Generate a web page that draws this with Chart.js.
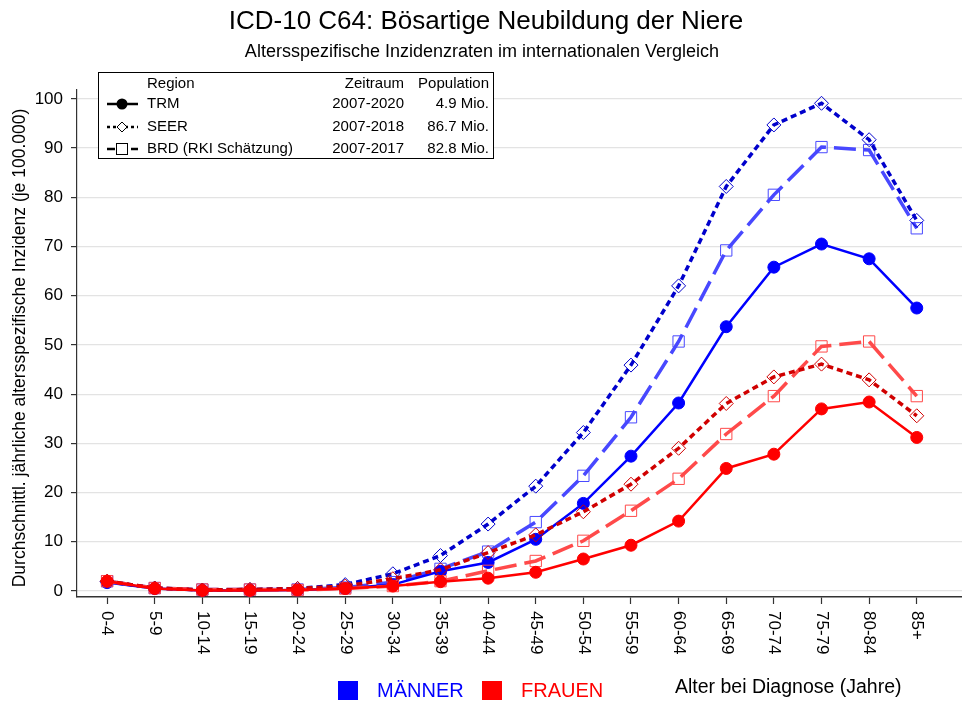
<!DOCTYPE html>
<html>
<head>
<meta charset="utf-8">
<script src="https://cdn.jsdelivr.net/npm/chart.js@4/dist/chart.umd.min.js"></script>
<style>
  html,body{margin:0;padding:0;background:#fff;}
  #wrap{width:962px;height:707px;}
</style>
</head>
<body>
<div id="wrap"><canvas id="c" width="962" height="707"></canvas></div>
<script>
const categories = ["0-4","5-9","10-14","15-19","20-24","25-29","30-34","35-39","40-44","45-49","50-54","55-59","60-64","65-69","70-74","75-79","80-84","85+"];
const yTicks = [0,10,20,30,40,50,60,70,80,90,100];

const menTRM  = [1.7,0.5,0.1,0.1,0.2,0.5,1.3,4.0,5.8,10.5,17.8,27.4,38.2,53.7,65.8,70.5,67.5,57.5];
const menSEER = [1.9,0.6,0.2,0.3,0.5,1.3,3.5,7.2,13.6,21.3,32.2,45.9,62.0,82.2,94.7,99.1,91.7,75.3];
const menBRD  = [2.0,0.6,0.3,0.3,0.3,0.7,1.8,4.5,8.0,14.0,23.4,35.3,50.7,69.2,80.5,90.2,89.6,73.7];
const womenTRM  = [2.0,0.5,0.1,0.1,0.2,0.5,1.0,1.9,2.6,3.8,6.5,9.3,14.2,24.9,27.8,37.0,38.4,31.2];
const womenSEER = [2.0,0.6,0.2,0.3,0.5,1.0,2.5,4.3,7.8,11.4,16.1,21.7,29.0,38.1,43.5,46.1,42.9,35.6];
const womenBRD  = [2.0,0.6,0.3,0.3,0.2,0.5,1.0,2.0,4.1,6.1,10.2,16.3,22.8,31.9,39.6,49.7,50.7,39.6];

const FONT = "'Liberation Sans', Arial, sans-serif";
const toPts = arr => arr.map((v,i)=>({x:i,y:v}));

function ds(label, data, color, style, order){
  const base = {label, data: toPts(data), borderColor: color, pointBorderColor: color, order, tension:0};
  if(style==='solid'){
    return Object.assign(base,{borderWidth:2.5, pointStyle:'circle', pointRadius:6, pointBackgroundColor:color, pointBorderWidth:1});
  } else if(style==='dot'){
    return Object.assign(base,{borderWidth:3.5, borderDash:[6,4], pointStyle:'rectRot', pointRadius:7, pointBackgroundColor:'rgba(0,0,0,0)', pointBorderWidth:1});
  } else {
    return Object.assign(base,{borderWidth:3.5, borderDash:[22,8], pointStyle:'rect', pointRadius:8, pointBackgroundColor:'rgba(0,0,0,0)', pointBorderWidth:1});
  }
}

const datasets = [
  ds('Frauen TRM', womenTRM, '#ff0000', 'solid', 1),
  ds('Frauen SEER', womenSEER, '#d00000', 'dot', 2),
  ds('Frauen BRD', womenBRD, '#ff4a4a', 'dash', 3),
  ds('Männer TRM', menTRM, '#0000ff', 'solid', 4),
  ds('Männer SEER', menSEER, '#0000cc', 'dot', 5),
  ds('Männer BRD', menBRD, '#4848ff', 'dash', 6)
];

function marker(ctx, type, x, y){
  ctx.save();
  ctx.setLineDash([]);
  ctx.strokeStyle='#000'; ctx.fillStyle='#000'; ctx.lineWidth=1;
  if(type==='circle'){ ctx.beginPath(); ctx.arc(x,y,5.5,0,Math.PI*2); ctx.fill(); }
  else if(type==='diamond'){ ctx.fillStyle='#fff'; ctx.beginPath(); ctx.moveTo(x,y-5); ctx.lineTo(x+5,y); ctx.lineTo(x,y+5); ctx.lineTo(x-5,y); ctx.closePath(); ctx.fill(); ctx.stroke(); }
  else { ctx.fillStyle='#fff'; ctx.fillRect(x-5.5,y-5.5,11,11); ctx.strokeRect(x-5.5,y-5.5,11,11); }
  ctx.restore();
}

const decor = {
  id:'decor',
  afterDraw(chart){
    const ctx = chart.ctx;
    const xs = chart.scales.x;
    ctx.save();
    ctx.fillStyle='#000'; ctx.textAlign='center'; ctx.textBaseline='middle';
    ctx.font = "26px " + FONT;
    ctx.fillText("ICD-10 C64: Bösartige Neubildung der Niere", 486, 22);
    ctx.font = "18px " + FONT;
    ctx.fillText("Altersspezifische Inzidenzraten im internationalen Vergleich", 482, 52);

    ctx.save();
    ctx.translate(20, 348);
    ctx.rotate(-Math.PI/2);
    ctx.font = "17.5px " + FONT;
    ctx.fillText("Durchschnittl. jährliche altersspezifische Inzidenz (je 100.000)", 0, 0);
    ctx.restore();

    ctx.font = "17px " + FONT;
    ctx.fillStyle='#000';
    categories.forEach((c,i)=>{
      const px = xs.getPixelForValue(i);
      ctx.save();
      ctx.translate(px, 611);
      ctx.rotate(Math.PI/2);
      ctx.textAlign='left'; ctx.textBaseline='middle';
      ctx.fillText(c, 0, 0);
      ctx.restore();
    });

    ctx.fillStyle='#fff';
    ctx.fillRect(98.5,72.5,395,86);
    ctx.strokeStyle='#000'; ctx.lineWidth=1; ctx.setLineDash([]);
    ctx.strokeRect(98.5,72.5,395,86);
    ctx.fillStyle='#000';
    ctx.font = "15px " + FONT;
    ctx.textBaseline='middle';
    ctx.textAlign='left';
    ctx.fillText("Region", 147, 84);
    ctx.textAlign='right';
    ctx.fillText("Zeitraum", 404, 84);
    ctx.fillText("Population", 489, 84);
    const rows = [
      {name:"TRM", per:"2007-2020", pop:"4.9 Mio.", y:104, dash:[], w:2.5, m:'circle'},
      {name:"SEER", per:"2007-2018", pop:"86.7 Mio.", y:127, dash:[3,3], w:2.5, m:'diamond'},
      {name:"BRD (RKI Schätzung)", per:"2007-2017", pop:"82.8 Mio.", y:149, dash:[8,4], w:2.5, m:'square'}
    ];
    rows.forEach(r=>{
      ctx.save();
      ctx.strokeStyle='#000'; ctx.lineWidth=r.w; ctx.setLineDash(r.dash);
      ctx.beginPath(); ctx.moveTo(107,r.y); ctx.lineTo(138,r.y); ctx.stroke();
      ctx.restore();
      marker(ctx, r.m, 122, r.y);
      ctx.fillStyle='#000';
      ctx.textAlign='left'; ctx.fillText(r.name, 147, r.y);
      ctx.textAlign='right'; ctx.fillText(r.per, 404, r.y); ctx.fillText(r.pop, 489, r.y);
    });

    ctx.fillStyle='#0000ff'; ctx.fillRect(338,681,20,19);
    ctx.fillStyle='#ff0000'; ctx.fillRect(482,681,20,19);
    ctx.font = "20px " + FONT; ctx.textAlign='left'; ctx.textBaseline='middle';
    ctx.fillStyle='#0000ff'; ctx.fillText("MÄNNER", 377, 691);
    ctx.fillStyle='#ff0000'; ctx.fillText("FRAUEN", 521, 691);
    ctx.fillStyle='#000'; ctx.font = "19.5px " + FONT;
    ctx.fillText("Alter bei Diagnose (Jahre)", 675, 688);
    ctx.restore();
  }
};

new Chart(document.getElementById('c'), {
  type:'line',
  data:{datasets},
  options:{
    responsive:false,
    animation:false,
    devicePixelRatio:1,
    layout:{autoPadding:false, padding:{top:90,left:0,right:0,bottom:0}},
    plugins:{legend:{display:false}, title:{display:false}, tooltip:{enabled:false}},
    scales:{
      x:{
        type:'linear', min:-0.632, max:17.95,
        afterBuildTicks:s=>{ s.ticks = categories.map((c,i)=>({value:i})); },
        ticks:{display:false},
        grid:{drawOnChartArea:false, drawTicks:true, tickLength:7, tickColor:'#333', tickWidth:1.2},
        border:{color:'#333', width:1.5},
        afterFit:s=>{ s.height = 110; }
      },
      y:{
        type:'linear', min:-1.22, max:101.8,
        afterBuildTicks:s=>{ s.ticks = yTicks.map(v=>({value:v})); },
        ticks:{font:{size:17, family:FONT}, color:'#000', padding:8},
        grid:{color:'#e3e3e3', lineWidth:1.2, tickColor:'#333', tickLength:6},
        border:{color:'#333', width:1.2},
        afterFit:s=>{ s.width = 77; }
      }
    }
  },
  plugins:[decor]
});
</script>
</body>
</html>
